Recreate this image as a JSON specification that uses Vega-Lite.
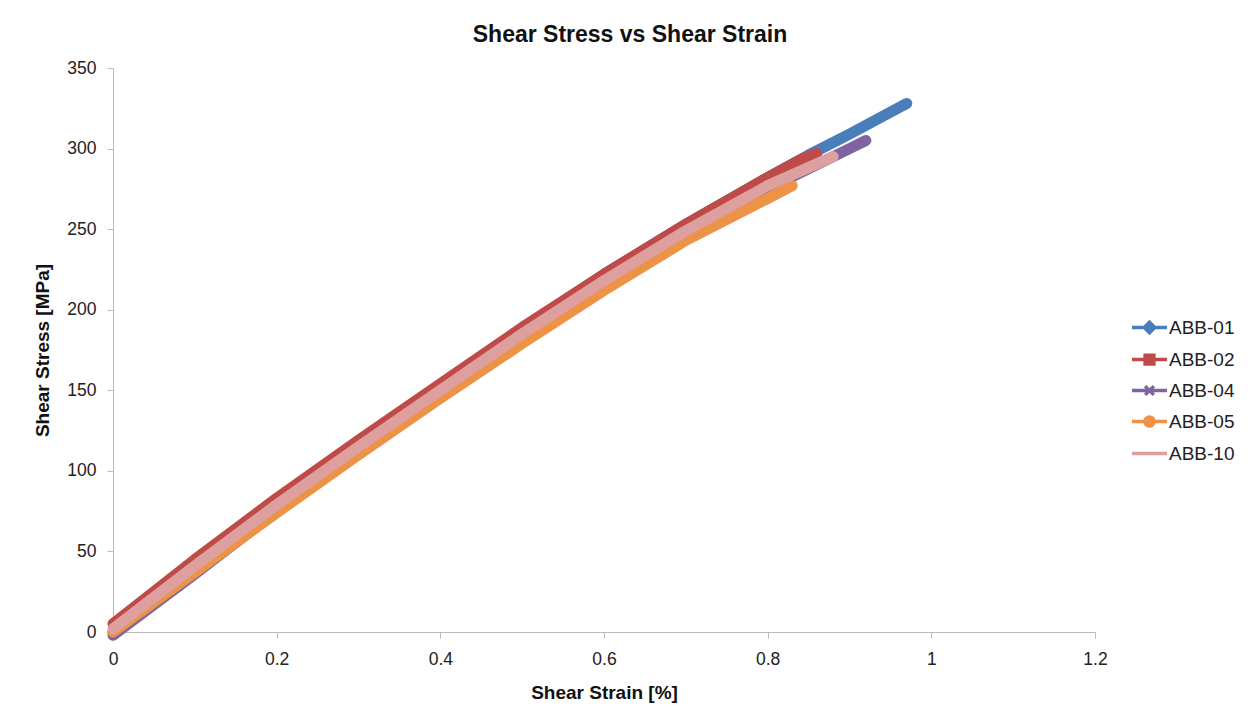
{
  "$schema": "https://vega.github.io/schema/vega-lite/v6.json",
  "width": 982,
  "height": 564,
  "autosize": {"type": "none"},
  "padding": {"left": 113, "top": 68, "right": 155, "bottom": 94},
  "background": "white",
  "config": {
    "font": "Liberation Sans",
    "view": {"stroke": null},
    "axis": {"grid": false, "domainColor": "#BBBBBB", "tickColor": "#BBBBBB", "labelFontSize": 17.5, "labelColor": "#222222", "titleFontSize": 19, "titleFontWeight": "bold", "titleColor": "#111111", "tickSize": 6, "labelFlush": false}
  },
  "title": {"text": "Shear Stress vs Shear Strain", "fontSize": 23, "fontWeight": "bold", "color": "#111111", "anchor": "middle", "dx": 26, "offset": 12},
  "data": {"values": [
    {"series": "ABB-01", "strain": 0.0, "stress": 0},
    {"series": "ABB-01", "strain": 0.1, "stress": 40},
    {"series": "ABB-01", "strain": 0.2, "stress": 79},
    {"series": "ABB-01", "strain": 0.3, "stress": 116},
    {"series": "ABB-01", "strain": 0.4, "stress": 152},
    {"series": "ABB-01", "strain": 0.5, "stress": 188},
    {"series": "ABB-01", "strain": 0.6, "stress": 222},
    {"series": "ABB-01", "strain": 0.7, "stress": 253},
    {"series": "ABB-01", "strain": 0.8, "stress": 282},
    {"series": "ABB-01", "strain": 0.85, "stress": 296},
    {"series": "ABB-01", "strain": 0.9, "stress": 309},
    {"series": "ABB-01", "strain": 0.97, "stress": 328},
    {"series": "ABB-02", "strain": 0.0, "stress": 5},
    {"series": "ABB-02", "strain": 0.1, "stress": 45},
    {"series": "ABB-02", "strain": 0.2, "stress": 83},
    {"series": "ABB-02", "strain": 0.3, "stress": 119},
    {"series": "ABB-02", "strain": 0.4, "stress": 154},
    {"series": "ABB-02", "strain": 0.5, "stress": 189},
    {"series": "ABB-02", "strain": 0.6, "stress": 222},
    {"series": "ABB-02", "strain": 0.7, "stress": 253},
    {"series": "ABB-02", "strain": 0.8, "stress": 282},
    {"series": "ABB-02", "strain": 0.84, "stress": 293},
    {"series": "ABB-02", "strain": 0.86, "stress": 297},
    {"series": "ABB-04", "strain": 0.0, "stress": -2},
    {"series": "ABB-04", "strain": 0.1, "stress": 36},
    {"series": "ABB-04", "strain": 0.2, "stress": 75},
    {"series": "ABB-04", "strain": 0.3, "stress": 112},
    {"series": "ABB-04", "strain": 0.4, "stress": 148},
    {"series": "ABB-04", "strain": 0.5, "stress": 183},
    {"series": "ABB-04", "strain": 0.6, "stress": 216},
    {"series": "ABB-04", "strain": 0.7, "stress": 247},
    {"series": "ABB-04", "strain": 0.8, "stress": 275},
    {"series": "ABB-04", "strain": 0.9, "stress": 300},
    {"series": "ABB-04", "strain": 0.92, "stress": 305},
    {"series": "ABB-05", "strain": 0.0, "stress": 0},
    {"series": "ABB-05", "strain": 0.1, "stress": 37},
    {"series": "ABB-05", "strain": 0.2, "stress": 74},
    {"series": "ABB-05", "strain": 0.3, "stress": 110},
    {"series": "ABB-05", "strain": 0.4, "stress": 145},
    {"series": "ABB-05", "strain": 0.5, "stress": 179},
    {"series": "ABB-05", "strain": 0.6, "stress": 212},
    {"series": "ABB-05", "strain": 0.7, "stress": 243},
    {"series": "ABB-05", "strain": 0.8, "stress": 269},
    {"series": "ABB-05", "strain": 0.83, "stress": 277},
    {"series": "ABB-10", "strain": 0.0, "stress": 2},
    {"series": "ABB-10", "strain": 0.1, "stress": 41},
    {"series": "ABB-10", "strain": 0.2, "stress": 79},
    {"series": "ABB-10", "strain": 0.3, "stress": 115},
    {"series": "ABB-10", "strain": 0.4, "stress": 150},
    {"series": "ABB-10", "strain": 0.5, "stress": 185},
    {"series": "ABB-10", "strain": 0.6, "stress": 218},
    {"series": "ABB-10", "strain": 0.7, "stress": 249},
    {"series": "ABB-10", "strain": 0.8, "stress": 277},
    {"series": "ABB-10", "strain": 0.88, "stress": 295}
  ]},
  "encoding": {
    "x": {"field": "strain", "type": "quantitative", "scale": {"domain": [0, 1.2], "nice": false}, "axis": {"values": [0, 0.2, 0.4, 0.6, 0.8, 1, 1.2], "format": "~g", "title": "Shear  Strain [%]", "labelPadding": 12, "titlePadding": 16}},
    "y": {"field": "stress", "type": "quantitative", "scale": {"domain": [0, 350], "nice": false}, "axis": {"values": [0, 50, 100, 150, 200, 250, 300, 350], "title": "Shear Stress [MPa]", "labelPadding": 11, "titlePadding": 14}},
    "color": {"field": "series", "type": "nominal", "scale": {"domain": ["ABB-01", "ABB-02", "ABB-04", "ABB-05", "ABB-10"], "range": ["#4A7EBB", "#BE4B48", "#8064A2", "#EC9348", "#DDA09E"]},
      "legend": {"title": null, "orient": "none", "legendX": 1017, "legendY": 240, "symbolSize": 1225, "symbolOpacity": 1, "symbolStrokeWidth": 3.5, "labelFontSize": 19, "labelColor": "#222222", "labelOffset": 0, "rowPadding": 0}}
  },
  "layer": [
    {
      "mark": {"type": "line", "strokeWidth": 11, "strokeCap": "round", "strokeJoin": "round", "clip": false}
    },
    {
      "mark": {"type": "point", "filled": false, "opacity": 0.001, "size": 1225, "fill": null},
      "encoding": {
        "shape": {"field": "series", "type": "nominal", "scale": {"domain": ["ABB-01", "ABB-02", "ABB-04", "ABB-05", "ABB-10"], "range": [
          "M-1,0H1M0,-0.3L0.3,0L0,0.3L-0.3,0ZM0,-0.15L0.15,0L0,0.15L-0.15,0Z",
          "M-1,0H1M-0.25,-0.25H0.25V0.25H-0.25ZM-0.12,-0.12H0.12V0.12H-0.12Z",
          "M-1,0H1M-0.25,-0.25L0.25,0.25M-0.25,0.25L0.25,-0.25",
          "M-1,0H1M-0.26,0A0.26,0.26 0 1,0 0.26,0A0.26,0.26 0 1,0 -0.26,0ZM-0.12,0A0.12,0.12 0 1,0 0.12,0A0.12,0.12 0 1,0 -0.12,0Z",
          "M-1,0H1"
        ]}, "legend": {"title": null, "orient": "none", "legendX": 1017, "legendY": 240, "symbolSize": 1225, "symbolOpacity": 1, "symbolStrokeWidth": 3.5, "labelFontSize": 19, "labelColor": "#222222", "labelOffset": 0, "rowPadding": 0}}
      }
    }
  ]
}
